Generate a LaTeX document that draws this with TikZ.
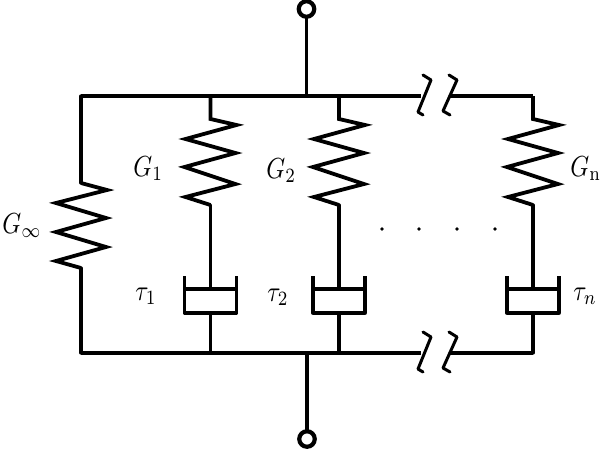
\documentclass[tikz,border=0pt]{standalone}
\tikzset{
  wire/.style={line width=3.3pt,line cap=round,line join=round,black},
  spring/.style={line width=3.8pt,line join=miter,black},
  hook/.style={line width=3pt,line cap=round,line join=round,black},
  terminal/.style={circle,draw=black,line width=4.2pt,fill=white,minimum size=15.5pt,inner sep=0pt,outer sep=0pt},
  lab/.style={anchor=base west,inner sep=0pt,xscale=2.4,yscale=2.9},
  dotmark/.style={circle,fill=black,minimum size=3.6pt,inner sep=0pt}
}
\newcommand{\zigzag}[1]{%
  \draw[spring] (#1) -- ++(0,23) -- ++(26,6) -- ++(-51,14) -- ++(50,14) -- ++(-51,14) -- ++(51,17) -- ++(-50,13) -- ++(25,8);}
\newcommand{\dashpot}[1]{%
  \draw[wire,line cap=butt] ([xshift=-26pt,yshift=13pt]#1) -- ++(0,37) -- ++(52,0) -- ++(0,-37);
  \draw[wire,line cap=butt] ([xshift=-25pt]#1) -- ++(50,0);}
\begin{document}
\begin{tikzpicture}[x=1pt,y=-1pt]
\useasboundingbox (0,0) rectangle (600,448);
\node[terminal] (tt) at (306.5,9) {};
\node[terminal] (tb) at (307,439) {};
\coordinate (jt) at (306.5,96);
\coordinate (jb) at (307,353);
\coordinate (a0) at (81,96);   \coordinate (b0) at (81,353);
\coordinate (a1) at (210.5,96); \coordinate (b1) at (210.5,353);
\coordinate (a2) at (339,96);  \coordinate (b2) at (339,353);
\coordinate (a3) at (533,96);  \coordinate (b3) at (533,353);
\coordinate (p1) at (210.5,289); \coordinate (p2) at (339,289); \coordinate (p3) at (533,289);
\coordinate (s1) at (210.5,205); \coordinate (s2) at (339,205); \coordinate (s3) at (533,205);
\coordinate (g0t) at (81,183); \coordinate (g0b) at (81,268);
\coordinate (q1) at (210.5,313); \coordinate (q2) at (339,313); \coordinate (q3) at (533,314);
\coordinate (bt1) at (421,96); \coordinate (bt2) at (449,96);
\coordinate (bb1) at (421,353); \coordinate (bb2) at (449,353);
% rails
\draw[wire,line cap=butt] (a0) -- (bt1);
\draw[wire,line cap=butt] (bt2) -- (a3);
\draw[wire,line cap=butt] (b0) -- (bb1);
\draw[wire,line cap=butt] (bb2) -- (b3);
\draw[wire] (tt) -- (jt);
\draw[wire] (jb) -- (tb);
% G infinity branch
\draw[wire] (a0) -- (g0t);
\draw[spring] (g0t) -- ++(26,7) -- ++(-51,13) -- ++(50,15) -- ++(-50,14) -- ++(50,15) -- ++(-50,14) -- (g0b);
\draw[wire] (g0b) -- (b0);
% Maxwell branches
\zigzag{a1}\zigzag{a2}\zigzag{a3}
\draw[wire] (s1) -- (p1); \draw[wire] (s2) -- (p2); \draw[wire] (s3) -- (p3);
\dashpot{p1}\dashpot{p2}\dashpot{p3}
\draw[wire] (q1) -- (b1); \draw[wire] (q2) -- (b2); \draw[wire] (q3) -- (b3);
% breaks
\foreach \y in {96,353}{
  \draw[hook] (423,\y-21) -- (431,\y-16) -- (418,\y+16) -- (423,\y+19);
  \draw[hook] (449,\y-21) -- (457,\y-16) -- (443,\y+15) -- (450,\y+19);
}
% dots
\node[dotmark] (d1) at (382,229) {};
\node[dotmark] (d2) at (419,229) {};
\node[dotmark] (d3) at (457,229) {};
\node[dotmark] (d4) at (495,229) {};
% labels
\node[lab] (lginf) at (2,233) {$G_\infty$};
\node[lab] (lg1) at (133,176) {$G_1$};
\node[lab] (lg2) at (266,178) {$G_2$};
\node[lab] (lgn) at (570,176) {$G_{\mathrm{n}}$};
\node[lab] (lt1) at (135,300) {$\tau_1$};
\node[lab] (lt2) at (267,301) {$\tau_2$};
\node[lab] (ltn) at (573,300) {$\tau_n$};
\end{tikzpicture}
\end{document}
